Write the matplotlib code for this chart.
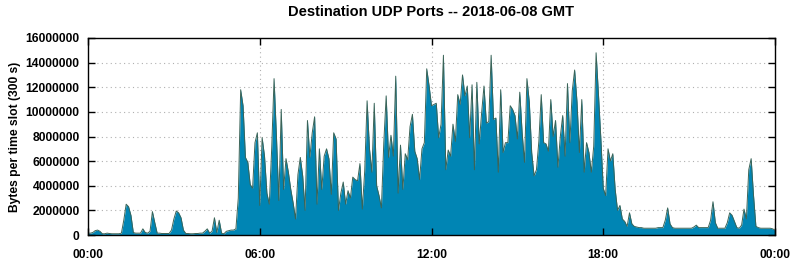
import numpy as np
import matplotlib.pyplot as plt

plt.rcParams['font.family'] = ['Liberation Sans', 'DejaVu Sans']

# Bytes per 5-minute slot, in millions (00:00 .. 24:00)
bytes_00_04 = [0.15, 0.15, 0.2, 0.35, 0.4, 0.3, 0.1, 0.1, 0.15, 0.12, 0.1, 0.1,
               0.1, 0.1, 0.15, 1.2, 2.5, 2.3, 1.6, 0.2, 0.15, 0.15, 0.15, 0.5,
               0.2, 0.15, 0.3, 1.9, 1.0, 0.15, 0.15, 0.12, 0.12, 0.12, 0.12, 0.4,
               1.3, 1.95, 1.8, 1.4, 0.4, 0.12, 0.12, 0.1, 0.1, 0.12, 0.12, 0.15]
bytes_04_08 = [0.15, 0.3, 0.5, 0.15, 0.3, 1.4, 0.2, 1.2, 0.15, 0.1, 0.3, 0.35,
               0.4, 0.4, 0.5, 3.0, 11.8, 10.5, 6.3, 5.9, 4.1, 3.8, 7.5, 8.3,
               2.4, 7.9, 6.4, 3.4, 2.5, 7.0, 12.7, 8.0, 2.8, 10.2, 3.7, 6.2,
               5.1, 3.7, 2.6, 1.3, 4.9, 6.3, 4.8, 2.0, 9.3, 6.3, 8.3, 9.6]
bytes_08_12 = [2.5, 7.0, 3.7, 6.4, 7.0, 6.2, 3.3, 8.3, 7.8, 2.0, 3.4, 4.3,
               2.5, 3.6, 3.0, 4.7, 4.5, 4.4, 5.8, 2.1, 5.2, 10.9, 7.0, 5.1,
               10.7, 4.0, 3.2, 2.2, 7.5, 11.3, 6.3, 8.1, 6.4, 12.9, 3.4, 7.3,
               3.7, 6.6, 6.1, 8.8, 9.8, 6.8, 6.2, 4.5, 7.0, 7.5, 13.5, 12.1]
bytes_12_16 = [10.5, 10.6, 10.7, 7.9, 9.0, 14.6, 5.3, 6.9, 6.4, 9.0, 7.6, 11.4,
               10.6, 13.0, 11.3, 12.1, 7.9, 12.2, 5.3, 12.4, 7.4, 9.9, 12.1, 9.1,
               9.2, 14.6, 9.4, 9.5, 5.1, 11.8, 6.7, 7.5, 7.5, 10.5, 10.2, 9.7,
               7.8, 11.6, 8.3, 5.9, 12.7, 10.8, 6.7, 4.8, 5.3, 7.6, 11.4, 7.5]
bytes_16_20 = [7.4, 6.8, 11.0, 8.0, 9.3, 5.5, 8.0, 9.7, 6.4, 12.3, 7.5, 11.7,
               13.4, 10.8, 6.7, 11.0, 5.1, 7.5, 6.7, 5.1, 7.2, 14.8, 11.4, 7.8,
               3.8, 3.2, 7.0, 6.0, 6.6, 3.7, 2.0, 2.4, 1.3, 1.1, 0.7, 1.8,
               0.9, 0.7, 0.65, 0.6, 0.6, 0.55, 0.55, 0.55, 0.55, 0.55, 0.55, 0.6]
bytes_20_24 = [0.6, 0.6, 1.2, 2.2, 0.9, 0.6, 0.55, 0.55, 0.55, 0.55, 0.55, 0.55,
               0.55, 0.55, 0.65, 0.8, 0.6, 0.6, 0.6, 0.6, 0.6, 1.2, 2.7, 1.0,
               0.55, 0.55, 0.55, 0.55, 1.0, 1.8, 1.6, 1.1, 0.6, 0.55, 0.8, 2.1,
               1.3, 5.3, 6.2, 3.2, 0.7, 0.6, 0.55, 0.55, 0.55, 0.55, 0.55, 0.5, 0.4]

tick_labels = ['00:00', '06:00', '12:00', '18:00', '00:00']
y_ticks = np.arange(0, 16000001, 2000000)

values = np.concatenate([bytes_00_04, bytes_04_08, bytes_08_12,
                         bytes_12_16, bytes_16_20, bytes_20_24]) * 1e6
slots = np.arange(len(values))

fig = plt.figure(figsize=(7.94, 2.60), dpi=100)
ax = fig.add_axes([88 / 794, 25 / 260, 687 / 794, 197 / 260])

ax.fill_between(slots, values, 0, color='#0085b4', linewidth=0)
ax.plot(slots, values, color='#3a6458', linewidth=0.7)

ax.set_xlim(0, 288)
ax.set_ylim(0, 16000000)
ax.set_xticks([0, 72, 144, 216, 288])
ax.set_xticklabels(tick_labels)
ax.set_yticks(y_ticks)
ax.set_yticklabels([str(v) for v in y_ticks])

for v in y_ticks[1:-1]:
    ax.axhline(v, color='#b0b0b0', linestyle=(0, (1, 3)), linewidth=0.8, zorder=0)
for v in [72, 144, 216]:
    ax.axvline(v, color='#b0b0b0', linestyle=(0, (1, 3)), linewidth=0.8, zorder=0)

ax.tick_params(direction='in', length=5, width=1, top=True, right=True,
               labelsize=8.7, pad=6)
ax.tick_params(axis='x', pad=10)
for lab in ax.get_xticklabels() + ax.get_yticklabels():
    lab.set_fontweight('bold')
for s in ax.spines.values():
    s.set_linewidth(1)

ax.set_ylabel('Bytes per time slot (300 s)', fontsize=8.7, fontweight='bold', labelpad=3)
fig.text(431 / 794, 1 - 12 / 260, 'Destination UDP Ports -- 2018-06-08 GMT',
         ha='center', va='center', fontsize=10.5, fontweight='bold')

fig.savefig('out.png', dpi=100)
